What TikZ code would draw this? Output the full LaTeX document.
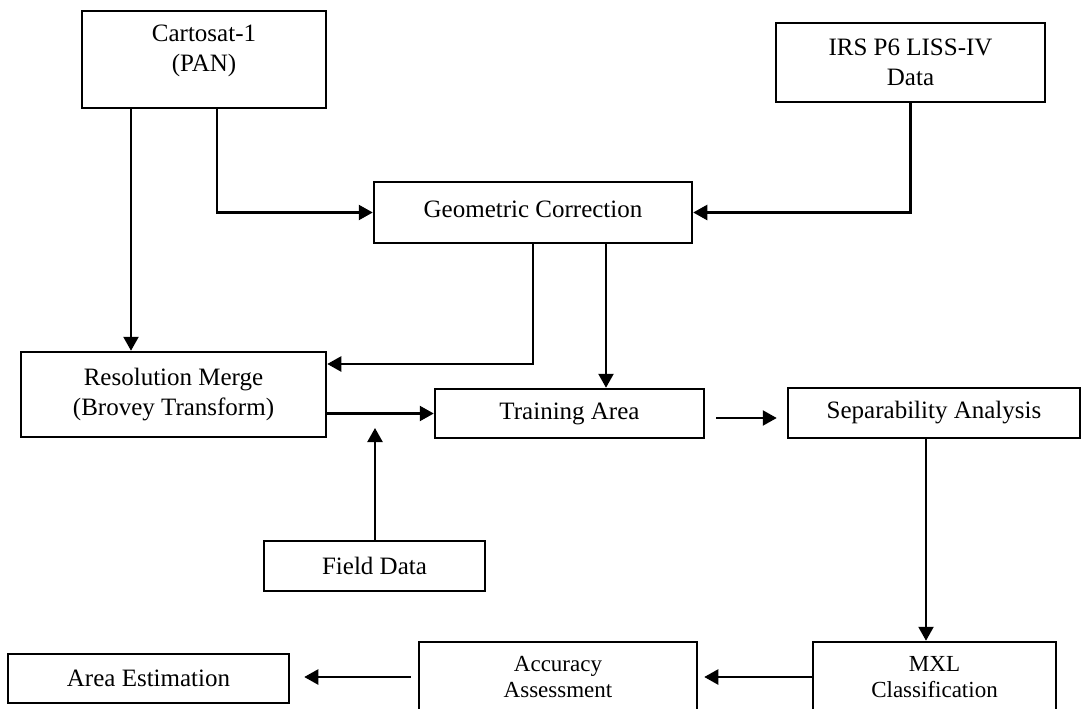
\documentclass[tikz,border=0pt]{standalone}
\usepackage{fontspec}
\setmainfont{Liberation Serif}
\usetikzlibrary{arrows.meta}
\tikzset{
  box/.style={draw, line width=2.5pt, inner sep=0pt, align=center,
    font=\fontsize{25}{30}\selectfont},
  txt/.style={inner sep=0pt, align=center, font=\fontsize{25}{30}\selectfont},
  smalltxt/.style={inner sep=0pt, align=center, font=\fontsize{23}{26}\selectfont},
  arr/.style={line width=2.3pt, -{Triangle[length=14pt,width=15pt]}},
  ln/.style={line width=2.3pt}
}
\begin{document}
\begin{tikzpicture}[x=1pt,y=-1pt]
\useasboundingbox (0,0) rectangle (1087,709);
\clip (0,0) rectangle (1087,709);
% boxes
\node[box, minimum width=244pt, minimum height=97pt] (cart) at (204,59.5) {};
\node[txt] (cartT) at (204,51) {Cartosat-1\\(PAN)};
\node[box, minimum width=269pt, minimum height=79pt] (irs) at (910.5,62.5) {IRS P6 LISS-IV\\Data};
\node[box, minimum width=318pt, minimum height=61pt] (geo) at (533,212.5) {};
\node[txt] (geoT) at (533,209) {Geometric Correction};
\node[box, minimum width=305pt, minimum height=85pt] (res) at (173.5,394.5) {Resolution Merge\\(Brovey Transform)};
\node[box, minimum width=269pt, minimum height=49pt] (train) at (569.5,413.5) {Training Area};
\node[box, minimum width=292pt, minimum height=50pt] (sep) at (934,413) {Separability Analysis};
\node[box, minimum width=221pt, minimum height=50pt] (field) at (374.5,566) {Field Data};
\node[box, minimum width=243pt, minimum height=98pt] (mxl) at (934.5,691) {};
\node[smalltxt] (mxlT) at (934.5,677) {MXL\\Classification};
\node[box, minimum width=278pt, minimum height=98pt] (acc) at (558,691) {};
\node[smalltxt] (accT) at (558,677.5) {Accuracy\\Assessment};
\node[box, minimum width=281pt, minimum height=49pt] (area) at (148.5,678.5) {Area Estimation};
% helper coordinates
\coordinate (c1) at (131,0);
\coordinate (c2) at (217,0);
\coordinate (c3) at (0,364);
\coordinate (c4) at (606,0);
\coordinate (c6) at (0,418);
\coordinate (c7) at (926,0);
\coordinate (c8) at (0,677);
\coordinate (ftip) at (375,428);
% connectors
\draw[arr] (cart.south -| c1) -- (res.north -| c1);
\draw[arr] (cart.south -| c2) |- (geo.west);
\draw[arr] (irs.south) |- (geo.east);
\draw[arr] (geo.south) |- (res.east |- c3);
\draw[arr] (geo.south -| c4) -- (train.north -| c4);
\draw[arr] (res.east |- train.west) -- (train.west);
\draw[arr] (field.north -| ftip) -- (ftip);
\draw[arr, shorten <=11pt, shorten >=10pt] (train.east |- c6) -- (sep.west |- c6);
\draw[arr] (sep.south -| c7) -- (mxl.north -| c7);
\draw[arr, shorten >=6pt] (mxl.west |- c8) -- (acc.east |- c8);
\draw[arr, shorten <=7pt, shorten >=14pt] (acc.west |- c8) -- (area.east |- c8);
\end{tikzpicture}
\end{document}
